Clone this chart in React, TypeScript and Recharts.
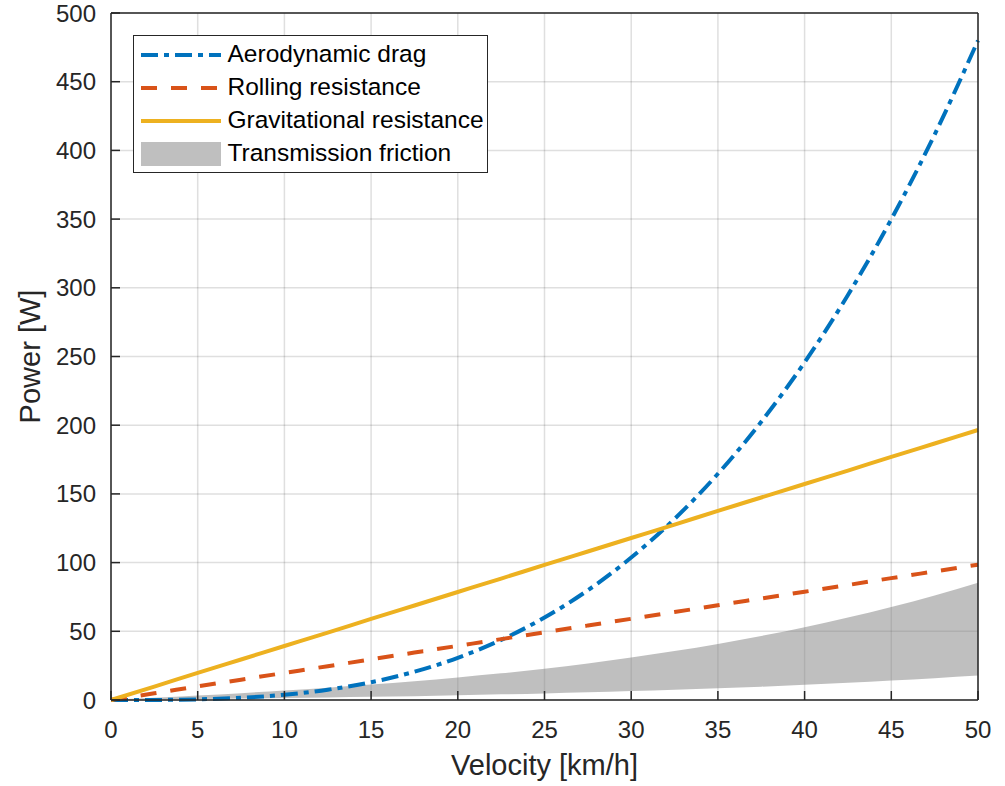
import { ComposedChart, Line, Area, XAxis, YAxis, CartesianGrid, Legend } from 'recharts';

// velocity in km/h, power in W
const velocity = [0, 2.5, 5, 7.5, 10, 12.5, 15, 17.5, 20, 22.5, 25, 27.5, 30, 32.5, 35, 37.5, 40, 42.5, 45, 47.5, 50];
const aeroDrag = [0, 0.06, 0.48, 1.62, 3.84, 7.5, 12.96, 20.58, 30.72, 43.74, 60, 79.86, 103.68, 131.82, 164.64, 202.5, 245.76, 294.78, 349.92, 411.54, 480];
const rollingRes = [0, 4.9, 9.9, 14.8, 19.7, 24.6, 29.6, 34.5, 39.4, 44.3, 49.3, 54.2, 59.1, 64.0, 69.0, 73.9, 78.8, 83.7, 88.7, 93.6, 98.5];
const gravRes = [0, 9.8, 19.7, 29.5, 39.3, 49.1, 59.0, 68.8, 78.6, 88.4, 98.3, 108.1, 117.9, 127.7, 137.6, 147.4, 157.2, 167.0, 176.9, 186.7, 196.5];
const frictionLow = [0, 0.34, 0.7, 1.06, 1.4, 1.9, 2.3, 2.8, 3.4, 4.1, 4.8, 5.6, 6.5, 7.4, 8.5, 9.7, 11.1, 12.5, 14.2, 15.9, 17.8];
const frictionHigh = [0, 1.6, 3.3, 5.0, 6.9, 8.9, 11.2, 13.6, 16.4, 19.4, 22.8, 26.6, 30.9, 35.6, 40.8, 46.6, 53.0, 60.0, 67.7, 76.1, 85.3];

const xTicks = [0, 5, 10, 15, 20, 25, 30, 35, 40, 45, 50];
const yTicks = [0, 50, 100, 150, 200, 250, 300, 350, 400, 450, 500];
const seriesNames = ['Aerodynamic drag', 'Rolling resistance', 'Gravitational resistance', 'Transmission friction'];

const data = velocity.map((v, i) => ({
  v,
  aero: aeroDrag[i],
  rolling: rollingRes[i],
  grav: gravRes[i],
  friction: [frictionLow[i], frictionHigh[i]],
}));

const font = '"Liberation Sans", Arial, Helvetica, sans-serif';
const axisColor = '#262626';
const blue = '#0072BD';
const orange = '#D95319';
const yellow = '#EDB120';
const blueDash = '17 6 5 6';
const orangeDash = '16 14';

const tickStyle = { fill: axisColor, fontSize: 24, fontFamily: font };

function PowerLabel(props: any) {
  const vb = props.viewBox || { x: 8, y: 8, width: 103, height: 687 };
  const cx = vb.x + 22;
  const cy = vb.y + vb.height / 2;
  return (
    <text x={cx} y={cy} transform={`rotate(-90 ${cx} ${cy})`} textAnchor="middle" dominantBaseline="central"
      fill={axisColor} fontSize={29} fontFamily={font}>
      Power [W]
    </text>
  );
}

function VelocityLabel(props: any) {
  const vb = props.viewBox || { x: 111, y: 700, width: 867, height: 78 };
  return (
    <text x={vb.x + vb.width / 2} y={vb.y + vb.height - 3} textAnchor="middle"
      fill={axisColor} fontSize={29} fontFamily={font}>
      Velocity [km/h]
    </text>
  );
}

function LegendBox() {
  return (
    <div style={{
      width: 355, height: 138, boxSizing: 'border-box', border: `1.5px solid ${axisColor}`, background: '#fff',
      padding: '2px 0 0 6.5px', fontFamily: font, fontSize: 24.5, color: '#000', lineHeight: 1,
    }}>
      {seriesNames.map((name, i) => (
        <div key={name} style={{ display: 'flex', alignItems: 'center', height: 33 }}>
          <svg width={80} height={24} style={{ flex: 'none', display: 'block' }}>
            {i === 0 && <line x1={0} x2={80} y1={12} y2={12} stroke={blue} strokeWidth={4} strokeDasharray={blueDash} />}
            {i === 1 && <line x1={0} x2={80} y1={12} y2={12} stroke={orange} strokeWidth={4} strokeDasharray={orangeDash} />}
            {i === 2 && <line x1={0} x2={80} y1={12} y2={12} stroke={yellow} strokeWidth={4} />}
            {i === 3 && <rect x={0} y={0} width={80} height={24} fill="#bfbfbf" />}
          </svg>
          <span style={{ marginLeft: 7, whiteSpace: 'nowrap' }}>{name}</span>
        </div>
      ))}
    </div>
  );
}

export default function App() {
  return (
    <div style={{ position: 'absolute', left: 0, top: 0, width: 1005, height: 786 }}>
      <ComposedChart width={1005} height={786} data={data} margin={{ top: 8, right: 8, bottom: 8, left: 8 }}>
        <CartesianGrid stroke={axisColor} strokeOpacity={0.15} strokeWidth={1.5} horizontal vertical />
        <Line type="monotone" dataKey="aero" stroke={blue} strokeWidth={4} strokeDasharray={blueDash} dot={false} isAnimationActive={false} />
        <Line type="monotone" dataKey="rolling" stroke={orange} strokeWidth={4} strokeDasharray={orangeDash} dot={false} isAnimationActive={false} />
        <Line type="monotone" dataKey="grav" stroke={yellow} strokeWidth={4} dot={false} isAnimationActive={false} />
        <Area type="monotone" dataKey="friction" stroke="none" fill="#7f7f7f" fillOpacity={0.5} isAnimationActive={false} />
        <XAxis
          dataKey="v" type="number" domain={[0, 50]} ticks={xTicks} interval={0} height={78}
          tick={tickStyle} tickSize={-9} tickMargin={30}
          axisLine={{ stroke: axisColor, strokeWidth: 1.5 }} tickLine={{ stroke: axisColor, strokeWidth: 1.5 }}
          label={VelocityLabel}
        />
        <XAxis
          xAxisId="top" orientation="top" dataKey="v" type="number" domain={[0, 50]} ticks={xTicks} interval={0} height={5}
          tick={false} tickSize={-9}
          axisLine={{ stroke: axisColor, strokeWidth: 1.5 }} tickLine={{ stroke: axisColor, strokeWidth: 1.5 }}
        />
        <YAxis
          type="number" domain={[0, 500]} ticks={yTicks} interval={0} width={103}
          tick={tickStyle} tickSize={-9} tickMargin={24}
          axisLine={{ stroke: axisColor, strokeWidth: 1.5 }} tickLine={{ stroke: axisColor, strokeWidth: 1.5 }}
          label={PowerLabel}
        />
        <YAxis
          yAxisId="r" orientation="right" type="number" domain={[0, 500]} ticks={yTicks} interval={0} width={19} allowDataOverflow
          tick={false} tickSize={-9}
          axisLine={{ stroke: axisColor, strokeWidth: 1.5 }} tickLine={{ stroke: axisColor, strokeWidth: 1.5 }}
        />
        <Legend layout="vertical" align="center" verticalAlign="middle" content={<LegendBox />}
          wrapperStyle={{ left: 133, top: 35, width: 355 }} />
      </ComposedChart>
    </div>
  );
}
